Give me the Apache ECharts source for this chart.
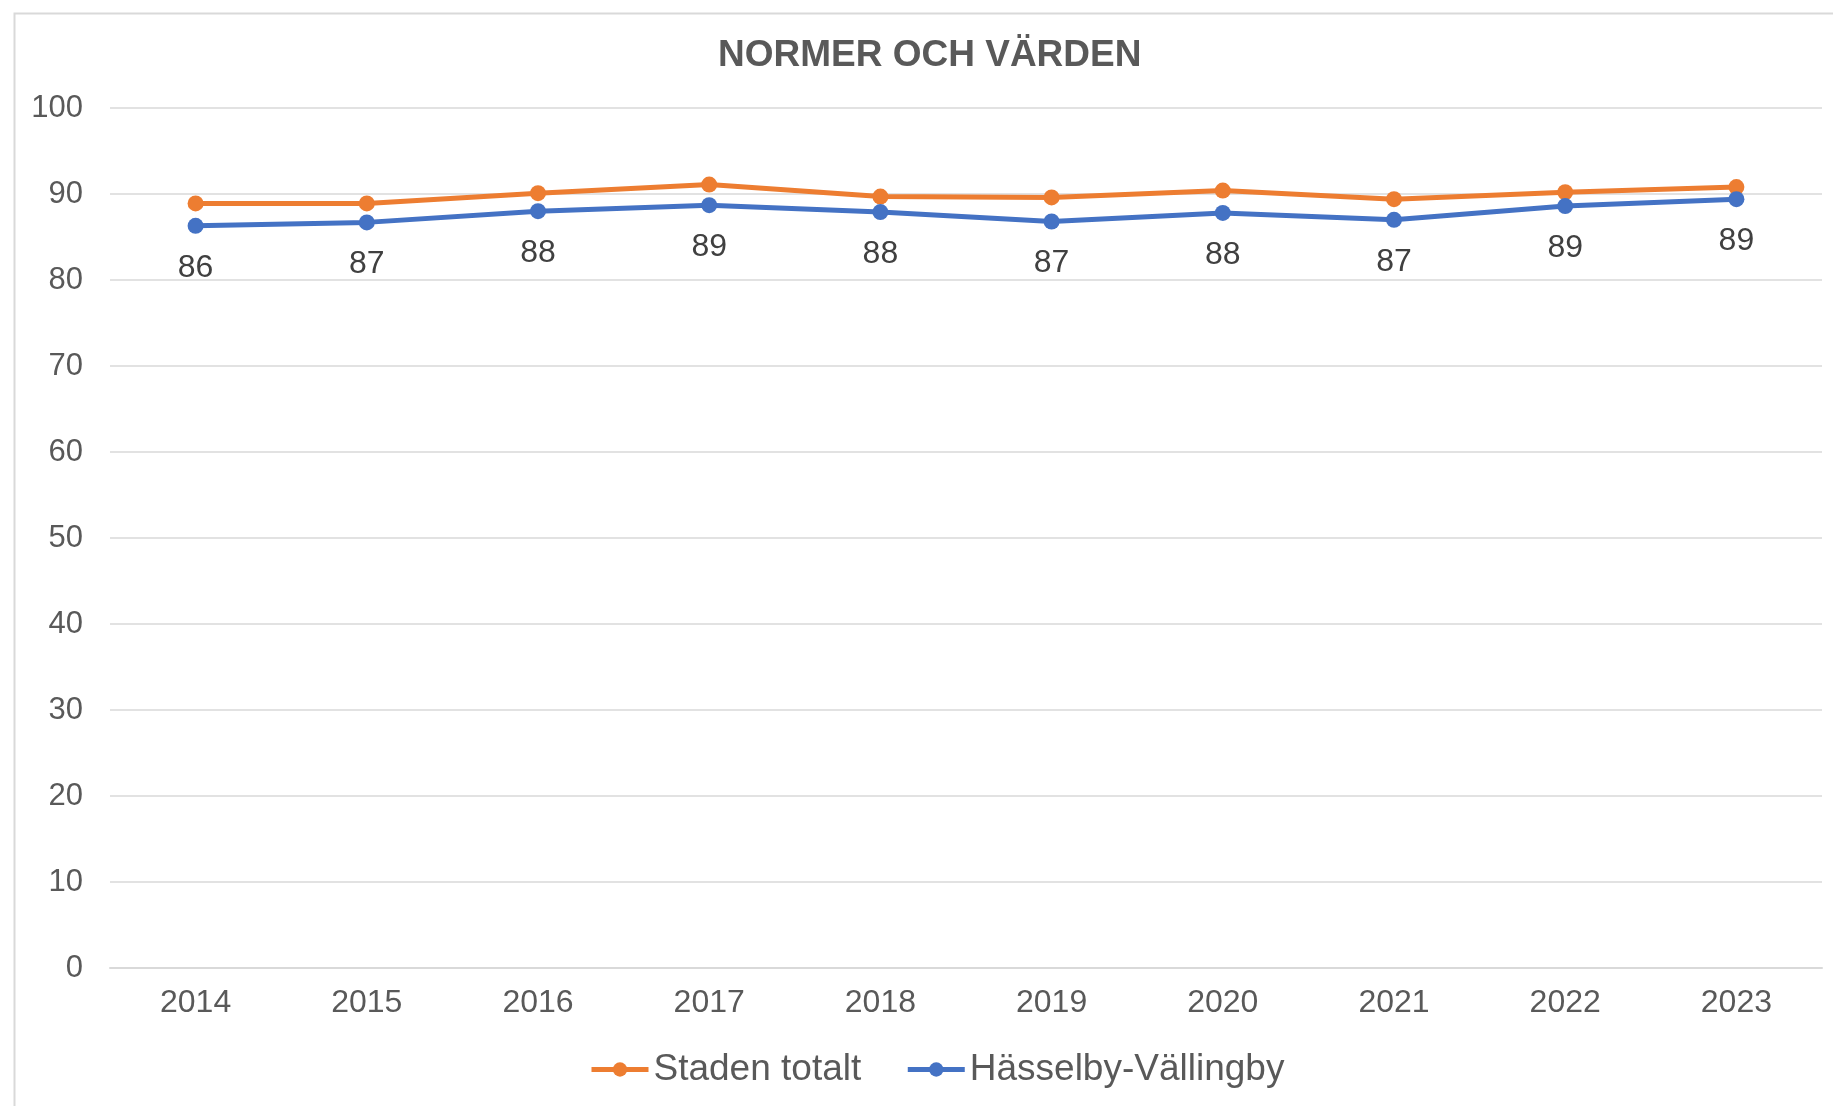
<!DOCTYPE html>
<html>
<head>
<meta charset="utf-8">
<script src="https://cdn.jsdelivr.net/npm/echarts@6/dist/echarts.min.js"></script>
<style>
html,body{margin:0;padding:0;background:#fff;}
#chart{width:1833px;height:1106px;}
</style>
</head>
<body>
<div id="chart"></div>
<script>
const title = "NORMER OCH VÄRDEN";
const years = ["2014","2015","2016","2017","2018","2019","2020","2021","2022","2023"];
const stadenName = "Staden totalt";
const stadenValues = [88.9, 88.9, 90.1, 91.1, 89.7, 89.6, 90.4, 89.4, 90.2, 90.8];
const hvName = "Hässelby-Vällingby";
const hvValues = [86.3, 86.7, 88.0, 88.7, 87.9, 86.8, 87.8, 87.0, 88.6, 89.4];
const yTicks = {min: 0, max: 100, interval: 10};

const font = "Liberation Sans, Arial, sans-serif";
const chart = echarts.init(document.getElementById('chart'));
chart.setOption({
  animation: false,
  backgroundColor: '#ffffff',
  graphic: [{
    type: 'rect', left: 12, top: 11, z: -1,
    shape: {width: 1900, height: 1200},
    style: {fill: 'none', stroke: '#d9d9d9', lineWidth: 2}
  }],
  title: {
    text: title, left: 713, top: 32,
    textStyle: {fontFamily: font, fontSize: 37, fontWeight: 'bold', color: '#595959'}
  },
  legend: {
    bottom: 13, left: 584,
    itemWidth: 57, itemHeight: 18, itemGap: 44,
    lineStyle: {width: 5},
    textStyle: {fontFamily: font, fontSize: 37, color: '#595959'},
    data: [stadenName, hvName]
  },
  grid: {left: 110, right: 11, top: 108, bottom: 138},
  xAxis: {
    type: 'category', data: years, boundaryGap: true,
    axisLine: {show: true, lineStyle: {color: '#d9d9d9', width: 2}},
    axisTick: {show: false},
    axisLabel: {fontFamily: font, fontSize: 32, color: '#595959', margin: 19}
  },
  yAxis: {
    type: 'value', min: yTicks.min, max: yTicks.max, interval: yTicks.interval,
    axisLine: {show: false}, axisTick: {show: false},
    axisLabel: {fontFamily: font, fontSize: 31, color: '#595959', margin: 27},
    splitLine: {lineStyle: {color: '#d9d9d9', width: 1.5}}
  },
  series: [
    {
      name: stadenName, type: 'line', data: stadenValues,
      symbol: 'circle', symbolSize: 16,
      itemStyle: {color: '#ED7D31'},
      lineStyle: {color: '#ED7D31', width: 5}
    },
    {
      name: hvName, type: 'line', data: hvValues,
      symbol: 'circle', symbolSize: 16,
      itemStyle: {color: '#4472C4'},
      lineStyle: {color: '#4472C4', width: 5},
      label: {
        show: true, position: 'bottom', distance: 18,
        fontFamily: font, fontSize: 32, color: '#404040',
        formatter: p => Math.round(p.value)
      }
    }
  ]
});
</script>
</body>
</html>
